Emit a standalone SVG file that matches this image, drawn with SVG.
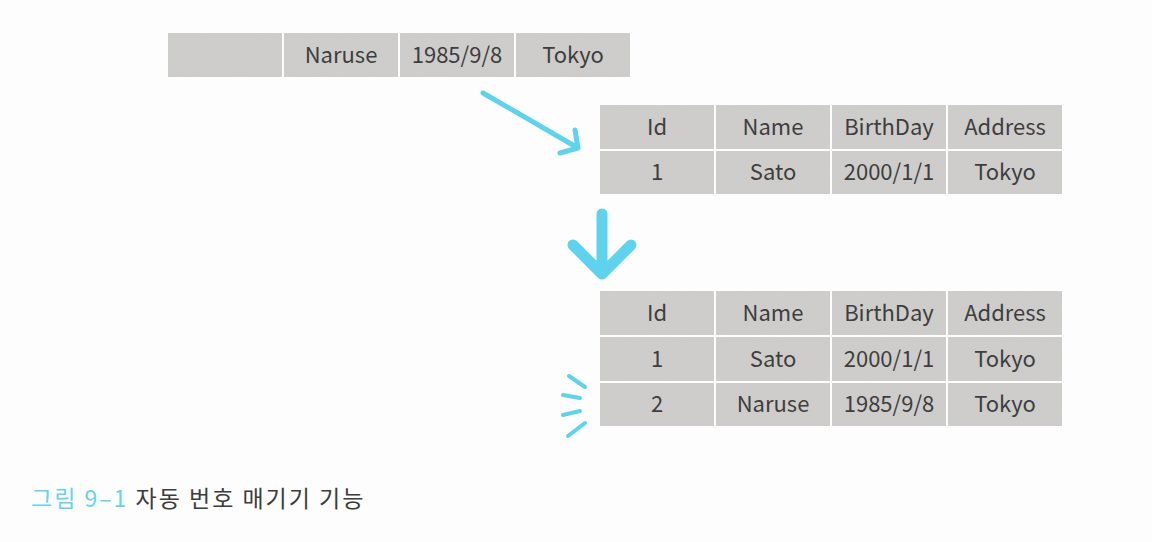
<svg xmlns="http://www.w3.org/2000/svg" width="1152" height="542" viewBox="0 0 1152 542">
<style>
.cell{fill:#cfcecc;filter:url(#grain)}
.t{font-family:"Noto Sans CJK KR","Noto Sans",sans-serif;font-size:22px;fill:#3e3e3e;text-anchor:middle}
.arr{fill:none;stroke:#5fd3ee;stroke-linecap:round;stroke-linejoin:round}
.cap{font-family:"Noto Sans CJK KR","Noto Sans",sans-serif;font-size:23px;letter-spacing:2px;fill:#3c3c3c}
</style>
<defs>
<filter id="grain" x="0" y="0" width="1" height="1">
<feTurbulence type="fractalNoise" baseFrequency="0.9" numOctaves="1" seed="3" result="n"/>
<feColorMatrix in="n" type="matrix" values="0 0 0 0 0.55  0 0 0 0 0.55  0 0 0 0 0.55  0 0 0 0.3 0" result="g"/>
<feComposite in="g" in2="SourceGraphic" operator="atop"/>
</filter>
</defs>
<rect width="1152" height="542" fill="#fdfdfd"/>

<g id="new-row">
<rect class="cell" x="168" y="33" width="114" height="44"/>
<rect class="cell" x="284" y="33" width="114" height="44"/>
<rect class="cell" x="400" y="33" width="114" height="44"/>
<rect class="cell" x="516" y="33" width="114" height="44"/>
<text class="t" x="341" y="63">Naruse</text>
<text class="t" x="457" y="63">1985/9/8</text>
<text class="t" x="573" y="63">Tokyo</text>
</g>

<g id="table-before">
<rect class="cell" x="600" y="105" width="114" height="44"/>
<rect class="cell" x="716" y="105" width="114" height="44"/>
<rect class="cell" x="832" y="105" width="114" height="44"/>
<rect class="cell" x="948" y="105" width="114" height="44"/>
<rect class="cell" x="600" y="151" width="114" height="43"/>
<rect class="cell" x="716" y="151" width="114" height="43"/>
<rect class="cell" x="832" y="151" width="114" height="43"/>
<rect class="cell" x="948" y="151" width="114" height="43"/>
<text class="t" x="657" y="135">Id</text>
<text class="t" x="773" y="135">Name</text>
<text class="t" x="889" y="135">BirthDay</text>
<text class="t" x="1005" y="135">Address</text>
<text class="t" x="657" y="180">1</text>
<text class="t" x="773" y="180">Sato</text>
<text class="t" x="889" y="180">2000/1/1</text>
<text class="t" x="1005" y="180">Tokyo</text>
</g>

<g id="table-after">
<rect class="cell" x="600" y="291" width="114" height="44"/>
<rect class="cell" x="716" y="291" width="114" height="44"/>
<rect class="cell" x="832" y="291" width="114" height="44"/>
<rect class="cell" x="948" y="291" width="114" height="44"/>
<rect class="cell" x="600" y="337" width="114" height="44"/>
<rect class="cell" x="716" y="337" width="114" height="44"/>
<rect class="cell" x="832" y="337" width="114" height="44"/>
<rect class="cell" x="948" y="337" width="114" height="44"/>
<rect class="cell" x="600" y="383" width="114" height="43"/>
<rect class="cell" x="716" y="383" width="114" height="43"/>
<rect class="cell" x="832" y="383" width="114" height="43"/>
<rect class="cell" x="948" y="383" width="114" height="43"/>
<text class="t" x="657" y="321">Id</text>
<text class="t" x="773" y="321">Name</text>
<text class="t" x="889" y="321">BirthDay</text>
<text class="t" x="1005" y="321">Address</text>
<text class="t" x="657" y="367">1</text>
<text class="t" x="773" y="367">Sato</text>
<text class="t" x="889" y="367">2000/1/1</text>
<text class="t" x="1005" y="367">Tokyo</text>
<text class="t" x="657" y="412">2</text>
<text class="t" x="773" y="412">Naruse</text>
<text class="t" x="889" y="412">1985/9/8</text>
<text class="t" x="1005" y="412">Tokyo</text>
</g>

<g id="connectors">
<path class="arr" stroke-width="5" d="M483 93 L578 148 M575 130 L578 148 L560 153"/>
<path class="arr" stroke-width="11" d="M602 214 L602 274 M573 245 L602 274 L631 245"/>
<path class="arr" stroke-width="4" d="M569 376 L585 387 M563 395 L580 398 M563 415 L580 411 M568 436 L585 423"/>
</g>

<g id="caption">
<text class="cap" x="31" y="507"><tspan fill="#66d4ef">그림 9–1</tspan> 자동 번호 매기기 기능</text>
</g>
</svg>
